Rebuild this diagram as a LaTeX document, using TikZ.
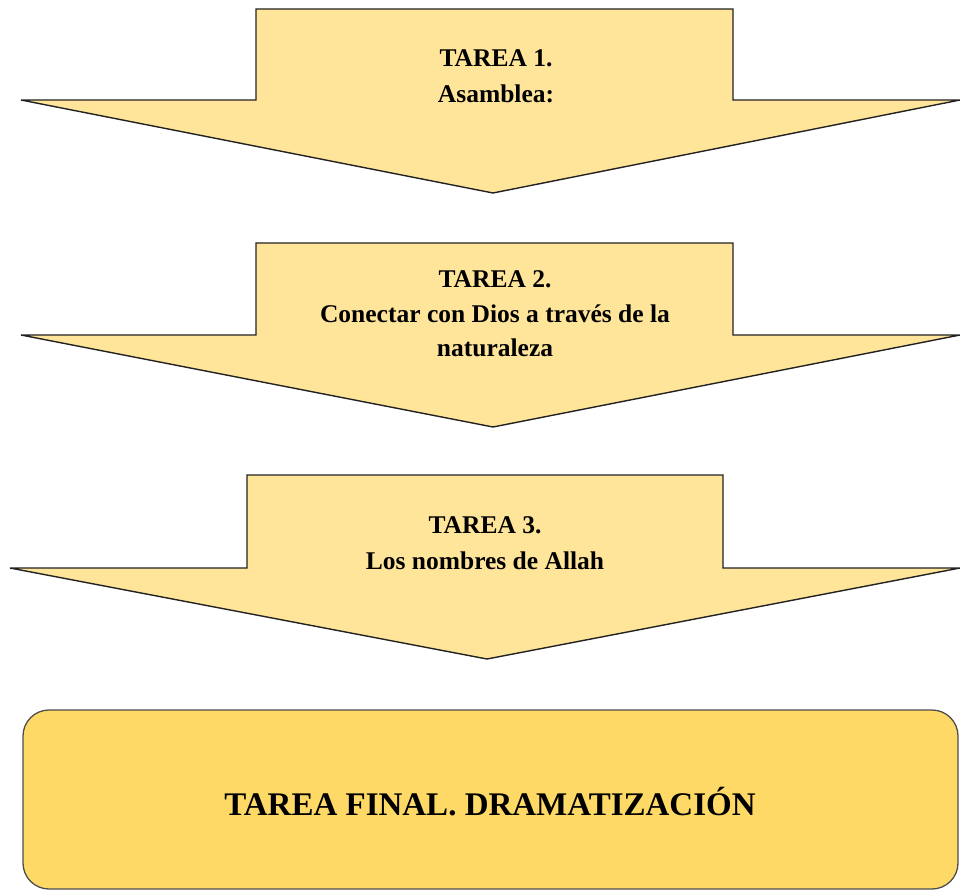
\documentclass[tikz,border=0pt]{standalone}
\usepackage{fontspec}
\setmainfont{Liberation Serif}
\definecolor{arrowfill}{HTML}{FFE599}
\definecolor{boxfill}{HTML}{FFD966}
\definecolor{edge}{HTML}{222222}
\begin{document}
\begin{tikzpicture}[x=1pt,y=-1pt,
  arrowshape/.style={draw=edge,fill=arrowfill,line width=1.4pt,line join=miter},
  finalbox/.style={draw=edge!80,fill=boxfill,line width=1.3pt,rounded corners=26pt},
  tasktext/.style={anchor=base,inner sep=0pt,font=\fontsize{25.5}{30}\selectfont\bfseries},
  finaltext/.style={anchor=base,inner sep=0pt,font=\fontsize{33}{38}\selectfont\bfseries}]
\useasboundingbox (0,0) rectangle (960,890);
% arrow 1
\draw[arrowshape] (256,9) -- (733,9) -- (733,100) -- (960,100) -- (493,193) -- (21,100) -- (256,100) -- cycle;
\node[tasktext] (t1a) at (496,67) {TAREA 1.};
\node[tasktext] (t1b) at (496,103) {Asamblea:};
% arrow 2
\draw[arrowshape] (256,243) -- (733,243) -- (733,335) -- (960,335) -- (493,427) -- (21,335) -- (256,335) -- cycle;
\node[tasktext] (t2a) at (495,288) {TAREA 2.};
\node[tasktext] (t2b) at (495,323) {Conectar con Dios a través de la};
\node[tasktext] (t2c) at (495,356) {naturaleza};
% arrow 3
\draw[arrowshape] (247,475) -- (723,475) -- (723,568) -- (960,568) -- (487,659) -- (10,568) -- (247,568) -- cycle;
\node[tasktext] (t3a) at (485,533) {TAREA 3.};
\node[tasktext] (t3b) at (485,569) {Los nombres de Allah};
% final box
\draw[finalbox] (23,710) rectangle (958,889);
\node[finaltext] (fin) at (490,815) {TAREA FINAL. DRAMATIZACIÓN};
\end{tikzpicture}
\end{document}
